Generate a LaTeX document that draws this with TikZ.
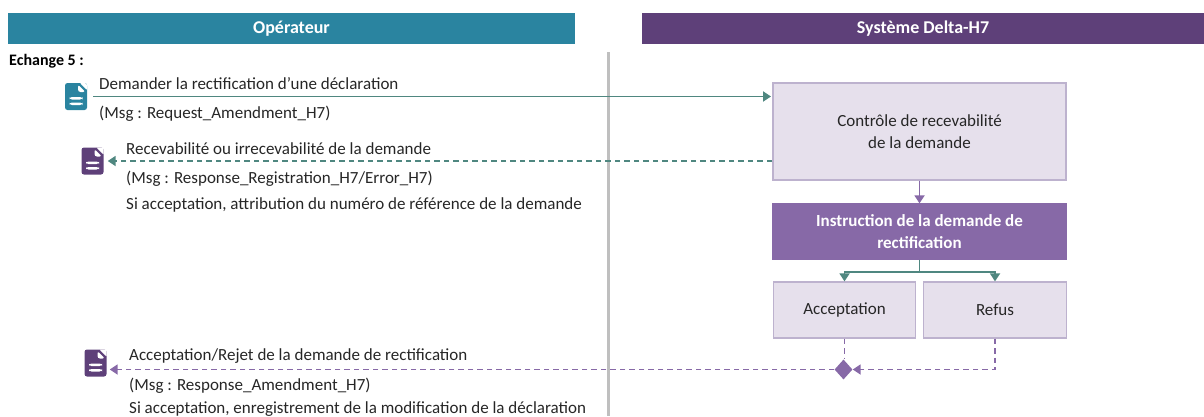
\documentclass[tikz,border=0pt]{standalone}
\usepackage{fontspec}
\setmainfont{Carlito}
\usetikzlibrary{arrows.meta,shapes.geometric}

\definecolor{tealhead}{HTML}{2A84A0}
\definecolor{purplehead}{HTML}{5E4079}
\definecolor{boxfill}{HTML}{E6E0EC}
\definecolor{boxline}{HTML}{BDB2CE}
\definecolor{purplemid}{HTML}{8769A7}
\definecolor{greenline}{HTML}{4F8780}
\definecolor{txt}{HTML}{262626}

\begin{document}
\begin{tikzpicture}[x=1pt, y=-1pt, node distance=100pt,
  font=\fontsize{17}{22}\selectfont, text=txt,
  header/.style={rectangle, minimum height=31pt, inner sep=0pt, text=white, font=\fontsize{18}{22}\selectfont\bfseries},
  block/.style={rectangle, draw=boxline, line width=1.3pt, fill=boxfill, align=center, inner sep=0pt},
  msg/.style={anchor=west, inner sep=0pt, yshift=-1pt},
  docicon/.style={rectangle, rounded corners=2.5pt, fill=#1, minimum width=22pt, minimum height=27pt, inner sep=0pt,
    path picture={
      \fill[white] ([xshift=-8pt,yshift=1pt]path picture bounding box.north east) -- ([xshift=1pt,yshift=1pt]path picture bounding box.north east) -- ([xshift=1pt,yshift=-8pt]path picture bounding box.north east) -- cycle;
      \fill[white] ([xshift=-9pt,yshift=-1.5pt]path picture bounding box.north east) -- ++(0,-7.5pt) -- ++(7.5pt,0) -- cycle;
      \fill[white] ([xshift=-6.5pt,yshift=-14pt]path picture bounding box.north) rectangle ++(13pt,-2.5pt);
      \fill[white] ([xshift=-6.5pt,yshift=-19.5pt]path picture bounding box.north) rectangle ++(13pt,-2.5pt);
    }},
  tealflow/.style={draw=greenline, line width=1.8pt, -{Triangle[width=10pt,length=8pt]}},
  purpleflow/.style={draw=purplemid, line width=1.8pt, -{Triangle[width=10pt,length=8pt]}},
  dashline/.style={dash pattern=on 5.5pt off 4pt},
]
  \useasboundingbox (0,0) rectangle (1204,416);

  \node[header, fill=tealhead, minimum width=567pt] (operateur) at (291.5,28.5) {Opérateur};
  \node[header, fill=purplehead, minimum width=562pt] (systeme) at (923,28.5) {Système Delta-H7};

  \coordinate (septop) at (608.5,52);
  \coordinate (sepbottom) at (608.5,416);
  \draw[draw=black!25, line width=3pt] (septop) -- (sepbottom);

  \node[msg, font=\fontsize{16}{16}\selectfont\bfseries, text=black] (echange) at (9,60.5) {Echange 5 :};

  % boites du systeme
  \node[block, minimum width=293pt, minimum height=97pt] (controle) at (919.5,131.5) {Contrôle de recevabilité\\de la demande};
  \node[block, below of=controle, draw=purplemid, fill=purplemid, text=white, font=\fontsize{17}{22}\selectfont\bfseries, minimum width=293pt, minimum height=55pt] (instruction) {Instruction de la demande de\\rectification};
  \node[block, minimum width=142pt, minimum height=56pt] (acceptation) at (844.5,310) {Acceptation};
  \node[block, right of=acceptation, node distance=150.5pt, minimum width=143pt, minimum height=56pt] (refus) {Refus};
  \node[diamond, fill=purplemid, inner sep=0pt, minimum width=18pt, minimum height=20pt] (decision) at (843.5,369.5) {};

  % documents
  \node[docicon=tealhead] (docdemande) at (76,96.5) {};
  \node[docicon=purplehead] (docrecev) at (92.5,161) {};
  \node[docicon=purplehead] (docrejet) at (95.5,363) {};

  % textes
  \node[msg] (demande) at (99,83) {Demander la rectification d’une déclaration};
  \node[msg] (demandemsg) at (99,113) {(Msg : Request\_Amendment\_H7)};
  \node[msg] (recev) at (126,148) {Recevabilité ou irrecevabilité de la demande};
  \node[msg] (recevmsg) at (126,178) {(Msg : Response\_Registration\_H7/Error\_H7)};
  \node[msg] (recevsi) at (126,204) {Si acceptation, attribution du numéro de référence de la demande};
  \node[msg] (rejet) at (129,355) {Acceptation/Rejet de la demande de rectification};
  \node[msg] (rejetmsg) at (129,385) {(Msg : Response\_Amendment\_H7)};
  \node[msg] (rejetsi) at (129,408) {Si acceptation, enregistrement de la modification de la déclaration};

  % liaisons
  \coordinate (entree) at (771,96.5);
  \coordinate (sortie) at (772,161);
  \draw[tealflow, shorten <=6pt] (docdemande.east) -- (entree);
  \draw[tealflow, dashline, shorten >=4pt] (sortie) -- (docrecev.east);
  \draw[purpleflow] (controle) -- (instruction);
  \draw[tealflow] (instruction.south) -- ++(0,12) -| (acceptation.north);
  \draw[tealflow] (instruction.south) -- ++(0,12) -| (refus.north);
  \draw[draw=purplemid, line width=1.8pt, dashline] (acceptation.south) -- (acceptation.south |- decision.north);
  \draw[purpleflow, dashline] (refus.south) |- (decision.east);
  \draw[purpleflow, dashline, shorten >=3pt] (decision.west) -- (docrejet.east |- decision.west);
\end{tikzpicture}
\end{document}
